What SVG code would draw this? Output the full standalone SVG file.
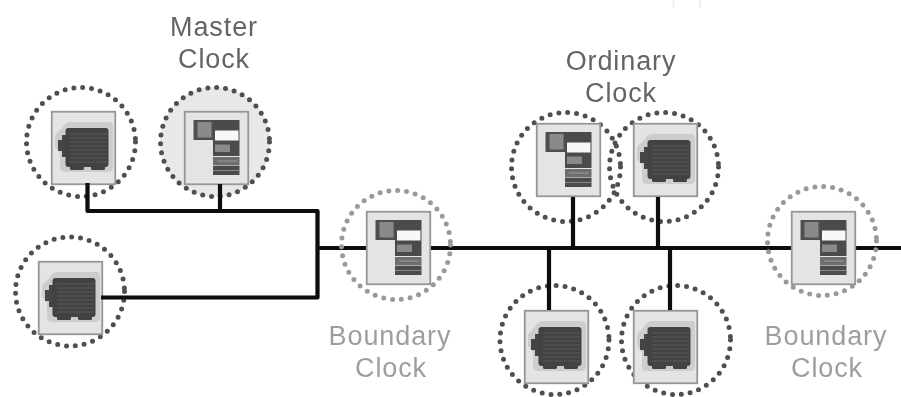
<svg xmlns="http://www.w3.org/2000/svg" width="901" height="397" viewBox="0 0 901 397">
<style>
.ring{fill:none;stroke:#505050;stroke-width:5;stroke-linecap:round;stroke-dasharray:0 8.9}
.light{stroke:#999}
.wire{fill:none;stroke:#0a0a0a;stroke-width:4.2;stroke-linejoin:round}
.lbl{font-family:"Liberation Sans",Arial,sans-serif;font-size:27px;letter-spacing:.9px;text-anchor:middle;fill:#646464}
.pale{fill:#9e9e9e}
.soft{filter:url(#blur)}
</style>
<defs>
<filter id="blur" x="-5%" y="-5%" width="110%" height="110%"><feGaussianBlur stdDeviation="0.6"/></filter>
<g id="box"><rect x="0.75" y="0.75" width="63.500" height="72.500" fill="#e4e4e4" stroke="#969696" stroke-width="1.800"/></g>
<g id="motor">
<use href="#box"/>
<path d="M4 24L12 16Q14 11 20 11H58Q62 11 62 16V56Q62 61 57 61H14Q9 61 9 56V42L4 36Z" fill="#cdcdcd"/>
<rect x="7" y="29" width="7" height="11" fill="#444"/>
<rect x="11" y="24" width="6" height="22" fill="#444"/>
<rect x="14.500" y="17" width="43" height="39" rx="3" fill="#424242"/>
<rect x="19" y="54" width="14" height="5" rx="1.500" fill="#424242"/>
<rect x="40" y="54" width="14" height="5" rx="1.500" fill="#424242"/>
<path d="M19 23H56M19 27H56M19 31H56M19 35H56M19 39H56M19 43H56M19 47H56M19 51H56" stroke="#585858" stroke-width="1"/>
</g>
<g id="rack">
<use href="#box"/>
<rect x="9.500" y="9" width="20" height="20" fill="#505050"/>
<rect x="13.500" y="11" width="14" height="15.500" fill="#8a8a8a"/>
<rect x="29" y="9" width="26.500" height="36" fill="#4c4c4c"/>
<rect x="31" y="19.500" width="23.500" height="10" fill="#f8f8f8"/>
<rect x="31" y="33.500" width="15" height="7.500" fill="#8a8a8a"/>
<rect x="29" y="46" width="26.500" height="8.500" fill="#6e6e6e"/>
<rect x="29" y="55" width="26.500" height="9" fill="#4c4c4c"/>
<path d="M29 59.500H55" stroke="#8a8a8a" stroke-width="1"/>
<path d="M33 50H53" stroke="#999" stroke-width="1"/>
</g>
</defs>
<rect width="901" height="397" fill="#fff"/>
<path d="M673.500 0V8M700 0V8" stroke="#eee" stroke-width="2" fill="none"/>
<g class="soft">
<g id="node-motor-top"><circle class="ring" cx="81" cy="142" r="54.500"/><use href="#motor" x="51" y="111"/></g>
<g id="node-master"><circle cx="215" cy="142" r="55" fill="#e8e8e8"/><circle class="ring" cx="215" cy="142" r="54.500"/><use href="#rack" x="184" y="111"/></g>
<g id="node-motor-left"><circle class="ring" cx="70" cy="291.500" r="54.500"/><use href="#motor" x="38" y="261"/></g>
<g id="node-ordinary-rack"><circle class="ring" cx="566" cy="167" r="54.500"/><use href="#rack" x="536" y="123"/></g>
<g id="node-ordinary-motor"><circle class="ring" cx="664" cy="167" r="54.500"/><use href="#motor" x="633" y="123"/></g>
<g id="node-motor-bottom-left"><circle class="ring" cx="554.500" cy="340" r="54.500"/><use href="#motor" x="524" y="310"/></g>
<g id="node-motor-bottom-right"><circle class="ring" cx="676" cy="340" r="54.500"/><use href="#motor" x="633" y="310"/></g>
<g id="connectors">
<path class="wire" d="M87.500 183V211H317.500V297.500H101"/>
<path class="wire" d="M220 184V211"/>
<path class="wire" d="M317.500 248H366"/>
<path class="wire" d="M431 248H791"/>
<path class="wire" d="M855 248H901"/>
<path class="wire" d="M573 197V248"/>
<path class="wire" d="M658 197V248"/>
<path class="wire" d="M549 248V310"/>
<path class="wire" d="M670 248V310"/>
</g>
<g id="node-boundary-1"><circle class="ring light" cx="396" cy="245" r="54.500"/><use href="#rack" x="366" y="211"/></g>
<g id="node-boundary-2"><circle class="ring light" cx="822" cy="241" r="54.500"/><use href="#rack" x="791" y="211"/></g>
</g>
<text class="lbl" x="214" y="36">Master</text>
<text class="lbl" x="214" y="68">Clock</text>
<text class="lbl" x="621" y="70">Ordinary</text>
<text class="lbl" x="621" y="102">Clock</text>
<text class="lbl pale" x="390" y="345">Boundary</text>
<text class="lbl pale" x="391" y="377">Clock</text>
<text class="lbl pale" x="826" y="345">Boundary</text>
<text class="lbl pale" x="827" y="377">Clock</text>
</svg>
